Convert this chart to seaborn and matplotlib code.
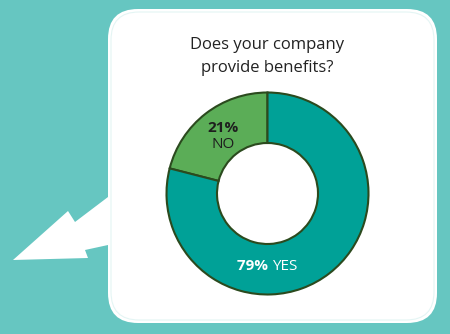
import matplotlib
matplotlib.use("Agg")
import matplotlib.pyplot as plt
from matplotlib.patches import FancyBboxPatch, Polygon
import numpy as np
import seaborn as sns

# ---- data ----
categories = ["NO", "YES"]
values = [21, 79]
pct_labels = ["21%", "79%"]
title_lines = ["Does your company", "provide benefits?"]

sns.set_style("white")
plt.rcParams["font.family"] = ["Open Sans", "DejaVu Sans"]

BG = "#66C6C1"
colors = ["#5BAD57", "#00A197"]
EDGE = "#2B4A1E"

W, H = 450, 334
fig = plt.figure(figsize=(W / 100, H / 100), dpi=100, facecolor=BG)

# background canvas in pixel coords (y down)
bg = fig.add_axes([0, 0, 1, 1])
bg.set_xlim(0, W)
bg.set_ylim(H, 0)
bg.axis("off")
bg.set_facecolor(BG)

# arrow
arrow = [(120, 197), (108, 197), (75, 222), (68, 211), (13, 260), (88, 258),
         (85, 250), (108, 245), (120, 245)]
bg.add_patch(Polygon(arrow, closed=True, facecolor="white", edgecolor="none", zorder=1))

# speech box
box = FancyBboxPatch((108 + 30, 9 + 30), 329 - 60, 314 - 60,
                     boxstyle="round,pad=30", facecolor="white", edgecolor="none", zorder=2)
bg.add_patch(box)
inner = FancyBboxPatch((111 + 28, 12 + 28), 323 - 56, 308 - 56,
                       boxstyle="round,pad=28", facecolor="none", edgecolor="#E4F5F4",
                       linewidth=0.8, zorder=3)
bg.add_patch(inner)

# title
bg.text(267, 45, title_lines[0], ha="center", va="center", fontsize=12, color="#222222", zorder=4)
bg.text(267, 68, title_lines[1], ha="center", va="center", fontsize=12, color="#222222", zorder=4)

# donut
cx, cy, r = 267.5, 193.5, 102
ax = fig.add_axes([(cx - r) / W, (H - cy - r) / H, 2 * r / W, 2 * r / H])
wedges, _ = ax.pie(values, colors=colors, startangle=90, counterclock=True,
                   radius=1.0,
                   wedgeprops=dict(width=0.5, edgecolor=EDGE, linewidth=1.5))
ax.set_xlim(-1.01, 1.01)
ax.set_ylim(-1.01, 1.01)
ax.set_aspect("equal")
ax.axis("off")

# labels
rl = 0.72
a_no = np.deg2rad((wedges[0].theta1 + wedges[0].theta2) / 2)
ax.text(rl * np.cos(a_no), rl * np.sin(a_no) + 0.08, pct_labels[0], ha="center", va="center",
        fontsize=11, fontweight="bold", color="#1E1E1E")
ax.text(rl * np.cos(a_no), rl * np.sin(a_no) - 0.08, categories[0], ha="center", va="center",
        fontsize=11, color="#1E1E1E")
a_yes = np.deg2rad(270)
ax.text(rl * np.cos(a_yes) + 0.045, rl * np.sin(a_yes), pct_labels[1] + " ", ha="right", va="center",
        fontsize=11, fontweight="bold", color="white")
ax.text(rl * np.cos(a_yes) + 0.045, rl * np.sin(a_yes), categories[1], ha="left", va="center",
        fontsize=11, color="white")

fig.savefig("out.png", dpi=100, facecolor=BG)
